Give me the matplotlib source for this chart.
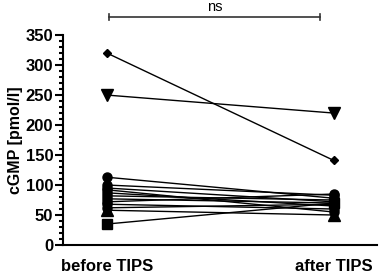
import matplotlib.pyplot as plt
from matplotlib.ticker import MultipleLocator

plt.rcParams['font.family'] = ['Liberation Sans', 'DejaVu Sans']

groups = ['before TIPS', 'after TIPS']

# cGMP [pmol/l] per patient, before and after TIPS
before = [320, 250, 113, 100, 95, 92, 87, 82, 77, 72, 68, 62, 58, 35]
after = [141, 220, 78, 83, 72, 55, 65, 75, 70, 85, 60, 68, 50, 70]
markers = ['D', 'v', 'o', 'o', 'o', 'o', 'o', 'o', 'o', 'o', 'o', 'o', '^', 's']
sizes = [4.5, 8, 6.5, 6.5, 6.5, 6.5, 6.5, 6.5, 6.5, 6.5, 6.5, 6.5, 8, 7]

fig = plt.figure(figsize=(3.83, 2.78), dpi=100)
ax = fig.add_axes([0.1645, 0.1187, 0.8195, 0.755])

for b, a, m, s in zip(before, after, markers, sizes):
	ax.plot([0, 1], [b, a], color='black', lw=1, marker=m, ms=s,
		mfc='black', mec='black', clip_on=False)

ax.set_xlim(-0.194, 1.19)
ax.set_ylim(0, 350)
ax.set_xticks([0, 1])
ax.set_xticklabels(groups, fontsize=12, fontweight='bold')
ax.tick_params(axis='x', length=0, pad=10)
ax.yaxis.set_major_locator(MultipleLocator(50))
ax.yaxis.set_minor_locator(MultipleLocator(10))
ax.tick_params(axis='y', which='major', length=6, width=1.5, labelsize=12, pad=1)
ax.tick_params(axis='y', which='minor', length=3, width=1.5)
for lab in ax.get_yticklabels():
	lab.set_fontweight('bold')
ax.set_ylabel('cGMP [pmol/l]', fontsize=11.5, fontweight='bold', labelpad=2)

for side in ['top', 'right']:
	ax.spines[side].set_visible(False)
ax.spines['left'].set_linewidth(1.5)
ax.spines['bottom'].set_linewidth(1.5)

# significance bracket
yb = 380
ax.plot([0.01, 0.94], [yb, yb], color='#333333', lw=1.2, clip_on=False)
ax.plot([0.01, 0.01], [yb - 5, yb + 5], color='#333333', lw=1.2, clip_on=False)
ax.plot([0.94, 0.94], [yb - 5, yb + 5], color='#333333', lw=1.2, clip_on=False)
ax.text(0.475, yb + 5, 'ns', ha='center', va='bottom', fontsize=10.5)

fig.savefig('out.png', dpi=100)
